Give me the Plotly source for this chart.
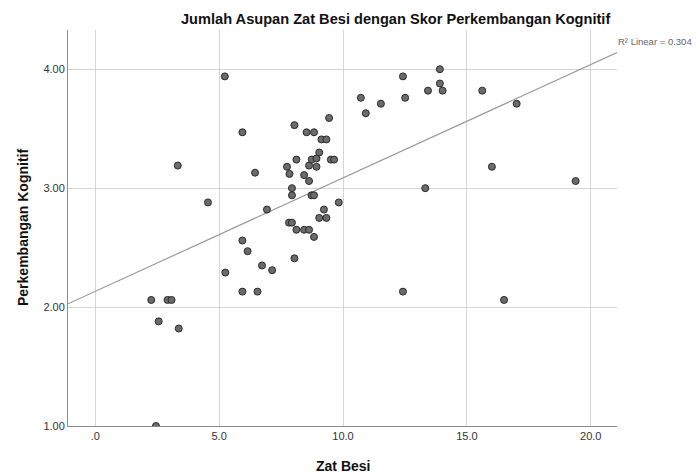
import numpy as np
import plotly.graph_objects as go

# Data (Zat Besi vs Perkembangan Kognitif)
zat_besi = [2.45, 2.26, 2.92, 3.08, 2.56, 3.37, 3.33, 4.55, 5.23, 5.94,
            5.25, 5.94, 6.15, 5.94, 6.55, 6.73, 7.14, 6.45, 6.93, 7.74,
            7.84, 7.94, 7.94, 7.82, 7.94, 8.04, 8.04, 8.12, 8.12, 8.43,
            8.63, 8.43, 8.53, 8.63, 8.63, 8.73, 8.83, 8.74, 8.83, 8.83,
            8.93, 8.93, 9.04, 9.04, 9.13, 9.33, 9.23, 9.33, 9.44, 9.51,
            9.64, 9.83, 10.72, 10.92, 11.53, 12.42, 12.51, 12.42, 13.32, 13.43,
            13.91, 13.91, 14.02, 15.62, 16.01, 16.50, 17.01, 19.39]
kognitif = [1.00, 2.06, 2.06, 2.06, 1.88, 1.82, 3.19, 2.88, 3.94, 3.47,
            2.29, 2.56, 2.47, 2.13, 2.13, 2.35, 2.31, 3.13, 2.82, 3.18,
            3.12, 3.00, 2.94, 2.71, 2.71, 2.41, 3.53, 3.24, 2.65, 2.65,
            2.65, 3.11, 3.47, 3.19, 3.06, 2.94, 2.94, 3.24, 3.47, 2.59,
            3.25, 3.18, 3.30, 2.75, 3.41, 3.41, 2.82, 2.75, 3.59, 3.24,
            3.24, 2.88, 3.76, 3.63, 3.71, 3.94, 3.76, 2.13, 3.00, 3.82,
            4.00, 3.88, 3.82, 3.82, 3.18, 2.06, 3.71, 3.06]

x_ticks = [0, 5, 10, 15, 20]
x_tick_labels = [".0", "5.0", "10.0", "15.0", "20.0"]
y_ticks = [1, 2, 3, 4]
y_tick_labels = ["1.00", "2.00", "3.00", "4.00"]
x_range = [-1.1, 21.06]
y_range = [1.0, 4.33]

title_text = "Jumlah Asupan Zat Besi dengan Skor Perkembangan Kognitif"
x_title = "Zat Besi"
y_title = "Perkembangan Kognitif"
r2_label = "R\u00b2 Linear = 0.304"

# Linear fit through the data
slope, intercept = np.polyfit(zat_besi, kognitif, 1)
fit_x = np.array(x_range)
fit_y = intercept + slope * fit_x

FONT = "Liberation Sans, Arial, sans-serif"

fig = go.Figure()
fig.add_trace(go.Scatter(
    x=fit_x, y=fit_y, mode="lines",
    line=dict(color="#9a9a9a", width=1.2),
    hoverinfo="skip", showlegend=False, cliponaxis=True,
))
fig.add_trace(go.Scatter(
    x=zat_besi, y=kognitif, mode="markers",
    marker=dict(size=7, color="#6b6b6b", line=dict(color="#2a2a2a", width=1)),
    showlegend=False, cliponaxis=True,
))

fig.update_layout(
    width=692, height=467,
    margin=dict(l=60, r=83, t=22, b=49),
    paper_bgcolor="white", plot_bgcolor="white",
    font=dict(family=FONT, color="#333333", size=11),
    annotations=[
        dict(text=title_text, xref="paper", yref="paper", x=0.597, y=1.0,
             xanchor="center", yanchor="bottom", yshift=1, showarrow=False,
             font=dict(family=FONT, size=14.6, color="#111111", weight="bold")),
        dict(text=r2_label, xref="paper", yref="paper", x=1.0, y=0.97,
             xanchor="left", yanchor="middle", xshift=-1, showarrow=False,
             font=dict(family=FONT, size=9.5, color="#666666")),
        dict(text=x_title, xref="paper", yref="paper", x=0.5, y=0,
             xanchor="center", yanchor="top", yshift=-30, showarrow=False,
             font=dict(family=FONT, size=14, color="#111111", weight="bold")),
        dict(text=y_title, xref="paper", yref="paper", x=0, y=0.5,
             xanchor="right", yanchor="middle", xshift=-35, textangle=-90,
             showarrow=False,
             font=dict(family=FONT, size=14, color="#111111", weight="bold")),
    ],
)
fig.update_xaxes(
    range=x_range, tickvals=x_ticks, ticktext=x_tick_labels,
    showgrid=True, gridcolor="#d4d4d4", gridwidth=1, zeroline=False,
    showline=True, linecolor="#8c8c8c", linewidth=1, mirror=False,
    ticks="", tickfont=dict(size=11, color="#333333"),
)
fig.update_yaxes(
    range=y_range, tickvals=y_ticks, ticktext=y_tick_labels,
    showgrid=True, gridcolor="#d4d4d4", gridwidth=1, zeroline=False,
    showline=True, linecolor="#8c8c8c", linewidth=1, mirror=False,
    ticks="", tickfont=dict(size=11, color="#333333"),
)

fig.write_html("out.html")
